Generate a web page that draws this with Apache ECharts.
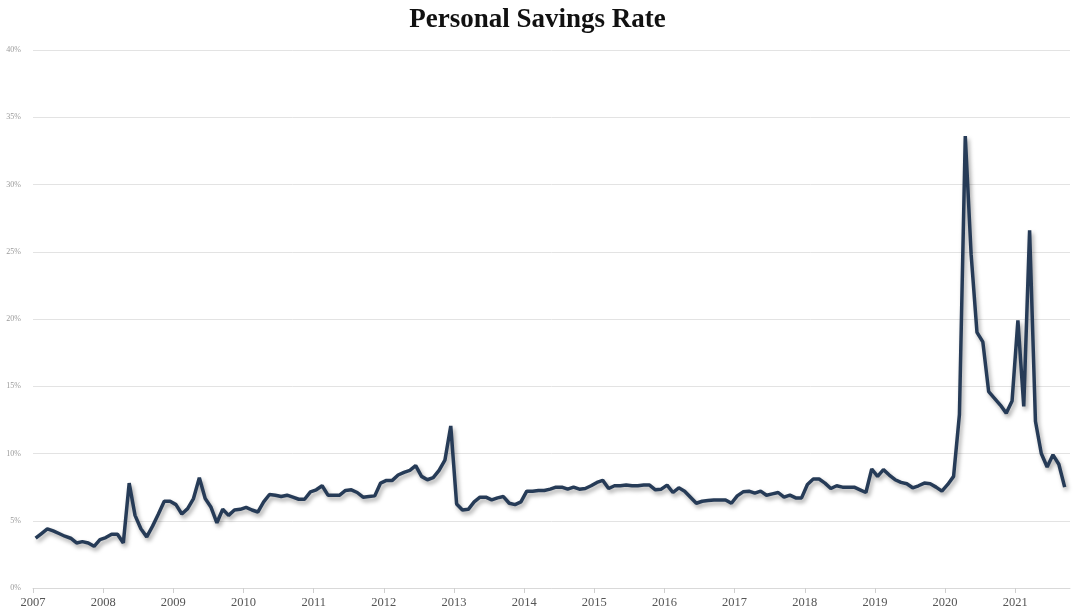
<!DOCTYPE html>
<html>
<head>
<meta charset="utf-8">
<script src="https://cdn.jsdelivr.net/npm/echarts@6/dist/echarts.min.js"></script>
<style>
html,body{margin:0;padding:0;background:#fff;}
#chart{width:1075px;height:613px;}
</style>
</head>
<body>
<div id="chart"></div>
<script>
// Monthly personal savings rate (%), Jan of each year through Dec (2021 through Sep)
const rate2007 = [3.7, 4.05, 4.4, 4.25, 4.05, 3.85, 3.7, 3.35, 3.45, 3.35, 3.1, 3.6];
const rate2008 = [3.75, 4.0, 4.0, 3.35, 7.8, 5.4, 4.4, 3.8, 4.6, 5.5, 6.45, 6.45];
const rate2009 = [6.2, 5.5, 5.9, 6.65, 8.2, 6.65, 6.0, 4.85, 5.85, 5.4, 5.8, 5.85];
const rate2010 = [6.0, 5.8, 5.65, 6.4, 6.95, 6.9, 6.8, 6.9, 6.75, 6.6, 6.6, 7.15];
const rate2011 = [7.3, 7.6, 6.9, 6.9, 6.9, 7.25, 7.3, 7.1, 6.75, 6.8, 6.85, 7.8];
const rate2012 = [8.0, 8.0, 8.4, 8.6, 8.75, 9.1, 8.3, 8.05, 8.2, 8.75, 9.5, 12.05];
const rate2013 = [6.25, 5.8, 5.85, 6.4, 6.75, 6.75, 6.55, 6.7, 6.8, 6.3, 6.2, 6.4];
const rate2014 = [7.2, 7.2, 7.25, 7.25, 7.35, 7.5, 7.5, 7.35, 7.5, 7.35, 7.4, 7.6];
const rate2015 = [7.85, 8.0, 7.4, 7.6, 7.6, 7.65, 7.6, 7.6, 7.65, 7.65, 7.3, 7.35];
const rate2016 = [7.65, 7.1, 7.45, 7.2, 6.75, 6.3, 6.45, 6.5, 6.55, 6.55, 6.55, 6.3];
const rate2017 = [6.85, 7.15, 7.2, 7.05, 7.2, 6.9, 7.0, 7.1, 6.75, 6.9, 6.7, 6.7];
const rate2018 = [7.7, 8.1, 8.1, 7.8, 7.4, 7.6, 7.5, 7.5, 7.5, 7.3, 7.1, 8.85];
const rate2019 = [8.3, 8.8, 8.4, 8.05, 7.85, 7.75, 7.45, 7.6, 7.8, 7.75, 7.5, 7.2];
const rate2020 = [7.7, 8.3, 12.9, 33.6, 24.8, 19.0, 18.3, 14.6, 14.1, 13.6, 13.0, 13.9];
const rate2021 = [19.9, 13.5, 26.6, 12.4, 10.0, 9.0, 9.9, 9.2, 7.5];

const startYear = 2007;
const yTicks = [0, 5, 10, 15, 20, 25, 30, 35, 40];

const allRates = [].concat(rate2007, rate2008, rate2009, rate2010, rate2011, rate2012,
  rate2013, rate2014, rate2015, rate2016, rate2017, rate2018, rate2019, rate2020, rate2021);
// each monthly observation plotted near the middle of its month
const seriesData = allRates.map((v, i) => [startYear + (i + 0.45) / 12, v]);

const chart = echarts.init(document.getElementById('chart'));
chart.setOption({
  backgroundColor: '#ffffff',
  animation: false,
  title: {
    text: 'Personal Savings Rate',
    left: 'center',
    top: 2,
    textStyle: {
      fontFamily: 'Liberation Serif',
      fontSize: 27,
      fontWeight: 'bold',
      color: '#111111'
    }
  },
  grid: { left: 33, right: 5, top: 50, bottom: 25 },
  xAxis: {
    type: 'value',
    min: startYear,
    max: 2021.78,
    interval: 1,
    axisLine: { show: true, lineStyle: { color: '#d9d9d9', width: 1 } },
    axisTick: { show: true, length: 5, lineStyle: { color: '#cfcfcf' } },
    splitLine: { show: false },
    axisLabel: {
      showMaxLabel: false,
      margin: 8,
      color: '#555555',
      fontFamily: 'Liberation Serif',
      fontSize: 12.5,
      formatter: function (v) { return Number.isInteger(v) ? String(v) : ''; }
    }
  },
  yAxis: {
    type: 'value',
    min: yTicks[0],
    max: yTicks[yTicks.length - 1],
    interval: 5,
    axisLine: { show: false },
    axisTick: { show: false },
    splitLine: { show: true, lineStyle: { color: '#e3e3e3', width: 1 } },
    axisLabel: {
      margin: 12,
      color: '#9a9a9a',
      fontFamily: 'Liberation Serif',
      fontSize: 8,
      formatter: '{value}%'
    }
  },
  series: [{
    type: 'line',
    data: seriesData,
    showSymbol: false,
    smooth: false,
    lineStyle: {
      color: '#263b57',
      width: 3.5,
      shadowColor: 'rgba(0,0,0,0.35)',
      shadowBlur: 4,
      shadowOffsetX: 2,
      shadowOffsetY: 3
    }
  }]
});
</script>
</body>
</html>
